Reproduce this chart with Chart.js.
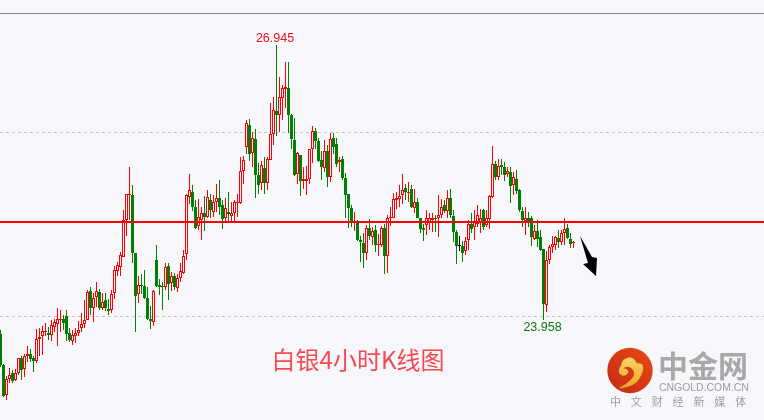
<!DOCTYPE html>
<html>
<head>
<meta charset="utf-8">
<style>html,body{margin:0;padding:0;background:#f6f6fb}#w{width:764px;height:420px}canvas{display:block}</style>
<script src="https://cdn.jsdelivr.net/npm/chart.js@4/dist/chart.umd.js"></script>
</head>
<body>
<div id="w"><canvas id="c" width="764" height="420"></canvas></div>
<script>
const opens = [
23.80,23.47,23.14,23.32,23.38,23.30,23.38,23.54,23.42,23.56,
23.59,23.54,23.51,23.75,23.78,23.83,23.82,23.79,23.88,23.91,
23.96,23.97,24.00,23.81,23.73,23.78,23.82,23.87,23.91,23.96,
24.27,24.09,24.21,24.26,24.09,24.17,24.08,24.07,24.25,24.49,
24.53,24.64,25.04,25.32,25.32,24.68,24.24,24.34,24.33,24.20,
23.97,23.93,24.61,24.34,24.33,24.31,24.54,24.36,24.43,24.30,
24.41,24.47,24.67,25.29,25.35,25.18,24.98,25.04,25.12,25.08,
25.26,25.13,25.24,25.28,25.21,25.06,25.13,25.09,25.12,25.23,
25.23,25.58,25.84,26.08,25.77,25.92,25.53,25.45,25.61,25.45,
25.70,25.98,26.23,26.19,26.37,26.47,26.48,26.19,25.91,25.54,
25.75,25.47,25.47,25.49,25.81,26.01,25.90,25.70,25.61,25.79,
25.51,25.93,25.87,25.67,25.71,25.50,25.33,25.17,25.01,25.01,
24.83,24.79,24.68,24.96,24.86,24.93,24.77,24.77,24.96,24.65,
25.06,25.07,25.26,25.27,25.32,25.39,25.34,25.38,25.17,25.24,
25.06,24.96,24.99,25.01,25.04,25.06,25.06,25.10,25.21,25.14,
25.28,25.09,24.91,24.76,24.76,24.71,24.83,25.00,24.97,25.00,
25.01,25.15,24.99,25.05,25.29,25.65,25.51,25.64,25.62,25.54,
25.57,25.42,25.49,25.37,25.14,25.03,25.06,25.07,24.84,24.92,
24.86,24.73,24.12,24.61,24.75,24.77,24.85,24.80,24.90,24.96,
24.84,24.79];
const highs = [
23.85,23.48,23.35,23.43,23.41,23.42,23.54,23.57,23.59,23.67,
23.64,23.56,23.86,23.87,23.89,23.92,23.88,23.96,23.97,24.09,
24.07,24.01,24.07,23.87,23.85,23.87,23.95,24.03,24.17,24.28,
24.32,24.25,24.37,24.29,24.25,24.25,24.19,24.28,24.54,24.59,
24.70,25.15,25.33,25.62,25.42,24.68,24.44,24.46,24.50,24.32,
24.11,24.28,24.77,24.40,24.37,24.58,24.58,24.48,24.47,24.46,
24.58,24.72,25.33,25.54,25.42,25.26,25.27,25.19,25.30,25.37,
25.33,25.31,25.43,25.48,25.26,25.28,25.35,25.24,25.26,25.33,
25.73,25.74,26.13,26.14,26.00,26.03,25.66,25.68,25.73,25.73,
26.31,26.38,26.945,26.60,26.51,26.76,26.76,26.20,26.15,25.78,
25.75,25.62,25.63,25.82,26.07,26.04,25.93,25.79,25.91,25.86,
25.99,25.99,25.94,25.73,25.74,25.55,25.33,25.21,25.13,25.04,
24.87,24.90,24.99,25.05,24.97,24.99,24.89,24.98,25.00,25.10,
25.18,25.34,25.35,25.42,25.54,25.44,25.46,25.42,25.38,25.28,
25.07,25.00,25.15,25.12,25.12,25.10,25.32,25.27,25.26,25.37,
25.38,25.15,24.94,24.87,24.81,24.86,25.04,25.12,25.15,25.21,
25.16,25.16,25.15,25.32,25.85,25.68,25.71,25.71,25.67,25.62,
25.62,25.56,25.59,25.38,25.18,25.18,25.13,25.09,24.99,25.04,
24.94,24.73,24.71,24.77,24.87,24.87,24.94,24.94,25.06,25.00,
24.90,24.82];
const lows = [
23.45,23.12,23.09,23.27,23.27,23.29,23.36,23.30,23.34,23.50,
23.50,23.39,23.49,23.57,23.58,23.78,23.74,23.73,23.83,23.67,
23.83,23.85,23.73,23.72,23.68,23.71,23.78,23.83,23.87,23.96,
24.01,23.94,24.10,24.07,24.07,24.05,24.01,24.03,24.19,24.43,
24.43,24.64,24.87,25.04,24.58,23.83,24.14,24.24,24.19,23.96,
23.86,23.89,24.32,24.23,24.07,24.28,24.17,24.27,24.28,24.26,
24.37,24.46,24.61,25.22,25.14,24.95,24.93,24.83,24.92,25.06,
25.06,25.08,25.13,25.10,24.95,25.03,25.03,25.03,25.03,25.08,
25.22,25.44,25.76,25.68,25.62,25.28,25.33,25.37,25.33,25.37,
25.70,25.86,25.96,26.00,26.13,26.26,25.99,25.82,25.52,25.44,
25.30,25.38,25.32,25.44,25.66,25.81,25.67,25.48,25.57,25.40,
25.46,25.76,25.62,25.57,25.48,25.07,24.96,24.97,24.92,24.82,
24.59,24.52,24.61,24.83,24.77,24.70,24.65,24.75,24.46,24.47,
24.98,25.06,25.16,25.18,25.22,25.26,25.24,25.17,25.12,25.06,
24.90,24.81,24.88,24.94,24.91,24.91,24.86,25.07,25.12,25.06,
25.06,24.80,24.57,24.71,24.59,24.66,24.72,24.90,24.83,24.97,
24.90,24.94,24.97,24.95,25.28,25.48,25.48,25.53,25.47,25.51,
25.23,25.32,25.33,25.13,24.97,24.88,24.97,24.76,24.83,24.75,
24.71,23.958,24.04,24.57,24.68,24.72,24.74,24.77,24.77,24.84,
24.74,24.74];
const closes = [
23.47,23.13,23.32,23.36,23.29,23.38,23.54,23.41,23.56,23.59,
23.53,23.51,23.75,23.77,23.84,23.84,23.79,23.90,23.93,23.97,
23.97,23.92,23.80,23.74,23.79,23.82,23.85,23.91,23.96,24.26,
24.09,24.20,24.27,24.09,24.15,24.09,24.05,24.24,24.50,24.55,
24.66,25.04,25.33,25.33,24.69,24.22,24.34,24.33,24.20,23.97,
23.95,24.27,24.33,24.32,24.31,24.53,24.35,24.43,24.32,24.41,
24.49,24.65,25.32,25.37,25.18,24.96,25.08,25.12,25.08,25.29,
25.15,25.24,25.28,25.19,25.05,25.17,25.11,25.12,25.24,25.24,
25.58,25.70,26.10,25.76,25.93,25.53,25.42,25.64,25.45,25.71,
25.98,26.24,26.19,26.38,26.48,26.49,26.19,25.92,25.53,25.77,
25.47,25.49,25.49,25.81,26.01,25.90,25.69,25.62,25.79,25.51,
25.92,25.84,25.65,25.70,25.50,25.32,25.17,25.01,25.03,24.83,
24.80,24.68,24.96,24.87,24.92,24.77,24.78,24.96,24.65,25.07,
25.08,25.27,25.28,25.30,25.37,25.35,25.35,25.19,25.24,25.07,
24.95,24.94,25.06,25.06,25.07,25.05,25.10,25.18,25.14,25.28,
25.10,24.91,24.76,24.76,24.69,24.82,25.00,24.95,25.03,25.10,
25.06,24.97,25.07,25.30,25.65,25.51,25.63,25.62,25.53,25.58,
25.41,25.51,25.36,25.15,25.04,25.07,25.03,24.86,24.92,24.84,
24.72,24.13,24.61,24.75,24.78,24.86,24.80,24.90,24.95,24.85,
24.78,24.80];
const categories = opens.map((_, i) => i);
const levelValue = 25.022;
const frameValue = 27.288;
const gridValues = [24, 26];
const highLabel = '26.945', highIndex = 92;
const lowLabel = '23.958', lowIndex = 181;
const titleText = '白银4小时K线图';
const logoName = '中金网', logoUrl = 'CNGOLD.COM.CN', logoTag = '中 文 财 经 新 媒 体';

const RED = '#ff0000', GREEN = '#008000', BG = '#f6f6fb';
const col = i => closes[i] > opens[i] ? RED : closes[i] < opens[i] ? GREEN : '#000000';

const snap = {
  id: 'snap',
  beforeDatasetDraw(chart, args) {
    if (args.meta.type !== 'bar') return;
    for (const el of args.meta.data) { el.y = Math.round(el.y); el.base = Math.round(el.base); }
  }
};
const overlay = {
  id: 'overlay',
  afterDraw(chart) {
    const g = chart.ctx, x = chart.scales.x, y = chart.scales.y;
    g.save();
    g.textAlign = 'center'; g.textBaseline = 'middle';
    g.font = '12.5px "Liberation Sans"';
    g.fillStyle = '#ee1018';
    g.fillText(highLabel, x.getPixelForValue(highIndex) - 1.5, y.getPixelForValue(26.945) - 7);
    g.fillStyle = '#0c7a10';
    g.fillText(lowLabel, x.getPixelForValue(lowIndex) - 1, y.getPixelForValue(23.958) + 8);
    g.font = '24px "Noto Sans CJK SC"';
    g.fillStyle = '#f44a50';
    g.fillText(titleText, 358, 360);

    // arrow
    g.fillStyle = '#000';
    g.beginPath();
    g.moveTo(580,236); g.lineTo(592,257); g.lineTo(597,258); g.lineTo(596,276); g.lineTo(583,264); g.lineTo(588,263);
    g.closePath(); g.fill();

    // logo
    const cx = 630, cy = 370.5, r = 22.7;
    const rg = g.createLinearGradient(cx-r, cy+r, cx+r, cy-r);
    rg.addColorStop(0, '#c42a16'); rg.addColorStop(1, '#e84a12');
    g.fillStyle = rg;
    g.beginPath(); g.arc(cx, cy, r, 0, Math.PI*2); g.fill();
    const yg = g.createLinearGradient(628, 358, 628, 389);
    yg.addColorStop(0, '#f8d468'); yg.addColorStop(1, '#f0a01e');
    g.fillStyle = yg;
    g.beginPath();
    g.moveTo(623.3,375.7);
    g.quadraticCurveTo(618,374,619,371);
    g.quadraticCurveTo(619,367,621,365.7);
    g.quadraticCurveTo(622,360,625,359);
    g.quadraticCurveTo(629,356.5,631.7,357.7);
    g.quadraticCurveTo(635,359,636.7,363.3);
    g.quadraticCurveTo(642,363,642.7,365.7);
    g.quadraticCurveTo(644,369,642,373.3);
    g.quadraticCurveTo(640,379,636.7,382.3);
    g.quadraticCurveTo(632,386,628,386.7);
    g.quadraticCurveTo(622,388.5,618.3,388.3);
    g.quadraticCurveTo(623,386,626.7,383.3);
    g.quadraticCurveTo(631,380,633.3,376.7);
    g.quadraticCurveTo(635,373,633,370);
    g.quadraticCurveTo(631,367,628.3,366.7);
    g.quadraticCurveTo(625,366.5,623.3,368.3);
    g.quadraticCurveTo(626,368.5,627.7,370);
    g.quadraticCurveTo(629,372,628,373.3);
    g.quadraticCurveTo(626,376,623.3,375.7);
    g.closePath(); g.fill();

    g.fillStyle = '#a8a8a8';
    g.textAlign = 'left';
    g.font = 'bold 30px "Noto Sans CJK SC"';
    g.fillText(logoName, 658, 366);
    g.fillStyle = '#9c9c9c';
    g.font = '10.45px "Liberation Sans"';
    g.fillText(logoUrl, 659, 388.5);
    g.font = '11px "Noto Sans CJK SC"';
    g.fillStyle = '#a0a0a0';
    g.letterSpacing = '3.7px';
    g.fillText(logoTag, 610, 402);
    g.letterSpacing = '0px';
    g.restore();
  }
};

new Chart(document.getElementById('c'), {
  type: 'bar',
  data: {
    labels: categories,
    datasets: [
      { type: 'line', order: 0, data: [{x:-1,y:levelValue},{x:260,y:levelValue}], borderColor: RED, borderWidth: 2, pointRadius: 0 },
      { type: 'line', order: 0, data: [{x:-1,y:frameValue},{x:260,y:frameValue}], borderColor: '#85858c', borderWidth: 1, pointRadius: 0 },
      { order: 1, grouped: false, barThickness: 3, minBarLength: 1, inflateAmount: 0, borderSkipped: false, borderWidth: 1,
        data: categories.map(i => ({x: i, y: [Math.min(opens[i], closes[i]), Math.max(opens[i], closes[i])]})),
        backgroundColor: categories.map(i => closes[i] > opens[i] ? BG : col(i)),
        borderColor: categories.map(col) },
      { order: 2, grouped: false, barThickness: 1, inflateAmount: 0, borderWidth: 0,
        data: categories.map(i => ({x: i, y: [lows[i], highs[i]]})),
        backgroundColor: categories.map(col) }
    ]
  },
  options: {
    responsive: false, devicePixelRatio: 1, animation: false,
    layout: { padding: 0 },
    plugins: { legend: { display: false }, tooltip: { enabled: false } },
    scales: {
      x: { type: 'linear', display: false, offset: false, min: -1/6, max: -1/6 + 764/3 },
      y: {
        min: 26 - 288/92, max: 26 + 132/92,
        afterFit(s) { s.width = 0; },
        afterBuildTicks(s) { s.ticks = gridValues.map(v => ({value: v})); },
        ticks: { display: false },
        border: { display: false, dash: [3, 3] },
        grid: { drawTicks: false, color: '#c6c6ca', lineWidth: 1 }
      }
    }
  },
  plugins: [snap, overlay]
});
</script>
</body>
</html>
